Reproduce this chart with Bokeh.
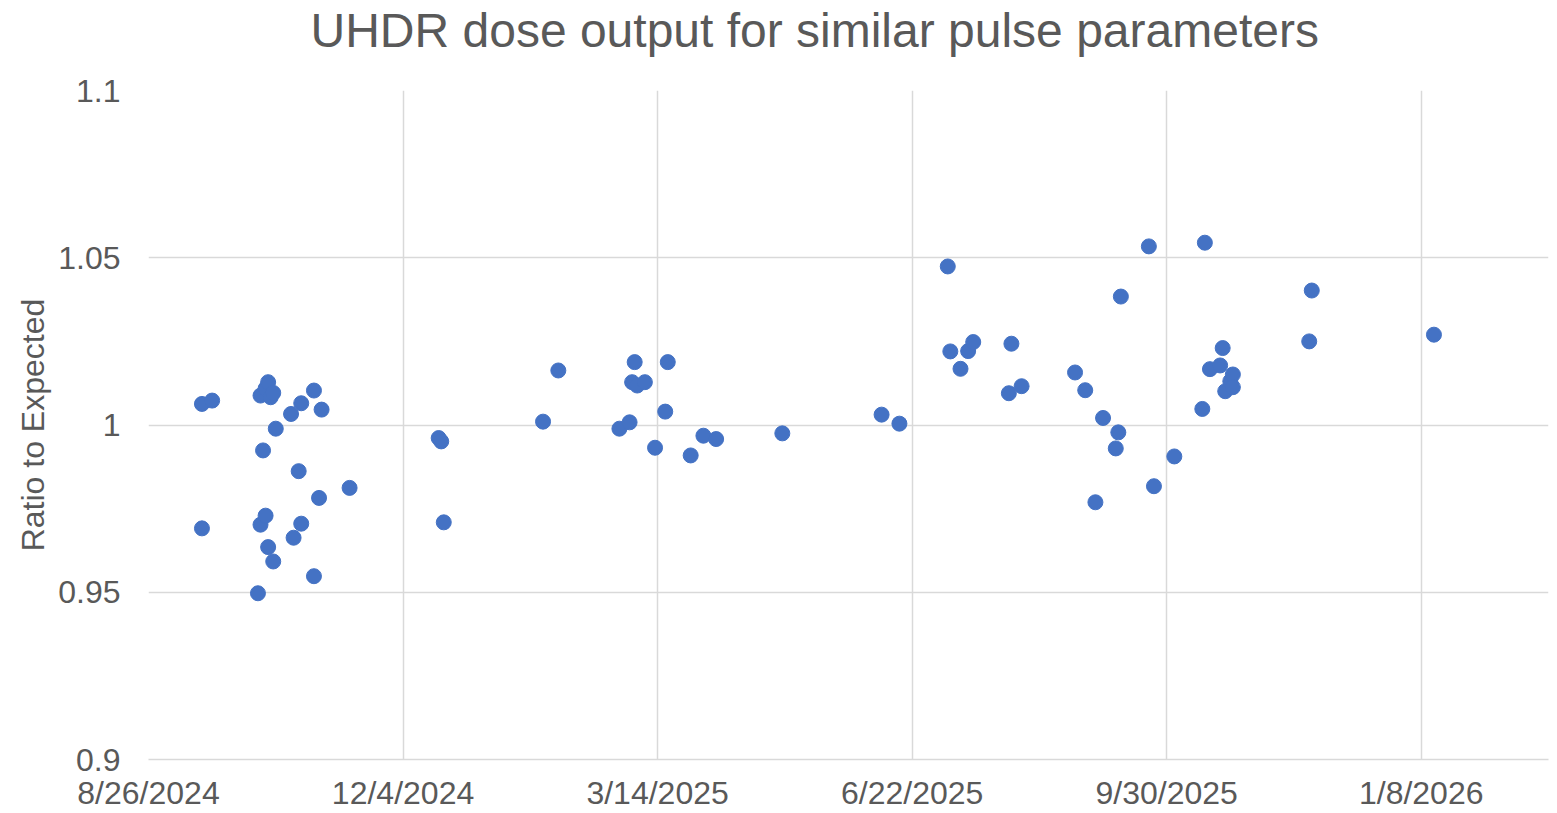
import pandas as pd
from bokeh.plotting import figure
from bokeh.models import Range1d, FixedTicker, CustomJSTickFormatter, ColumnDataSource, Title
from bokeh.embed import file_html
from bokeh.resources import INLINE

title_text = "UHDR dose output for similar pulse parameters"
y_axis_title = "Ratio to Expected"

dates = [
    "2024-09-16", "2024-09-16", "2024-09-20", "2024-10-08", "2024-10-09", "2024-10-09",
    "2024-10-10", "2024-10-11", "2024-10-11", "2024-10-12", "2024-10-12", "2024-10-13",
    "2024-10-14", "2024-10-14", "2024-10-15", "2024-10-21", "2024-10-22", "2024-10-24",
    "2024-10-25", "2024-10-25", "2024-10-30", "2024-10-30", "2024-11-01", "2024-11-02",
    "2024-11-13",
    "2024-12-18", "2024-12-19", "2024-12-20", "2025-01-28", "2025-02-03",
    "2025-02-27", "2025-03-03", "2025-03-04", "2025-03-05", "2025-03-06", "2025-03-09",
    "2025-03-13", "2025-03-17", "2025-03-18", "2025-03-27", "2025-04-01", "2025-04-06",
    "2025-05-02", "2025-06-10", "2025-06-17",
    "2025-07-06", "2025-07-07", "2025-07-11", "2025-07-14", "2025-07-16", "2025-07-30",
    "2025-07-31", "2025-08-04",
    "2025-08-25", "2025-08-29", "2025-09-02", "2025-09-05", "2025-09-10", "2025-09-11",
    "2025-09-12", "2025-09-23", "2025-09-25", "2025-10-03", "2025-10-14", "2025-10-15",
    "2025-10-17", "2025-10-21", "2025-10-22", "2025-10-23", "2025-10-25", "2025-10-26",
    "2025-10-26", "2025-11-25", "2025-11-26", "2026-01-13",
]
ratios = [
    1.0063, 0.9691, 1.0073, 0.9497, 1.0088, 0.9702,
    0.9924, 1.0109, 0.9729, 1.0128, 0.9635, 1.0083,
    1.0096, 0.9592, 0.9989, 1.0033, 0.9663, 0.9862,
    1.0065, 0.9705, 1.0103, 0.9548, 0.9782, 1.0046,
    0.9812,
    0.9961, 0.9951, 0.9709, 1.0010, 1.0163,
    0.9989, 1.0008, 1.0128, 1.0188, 1.0118, 1.0128,
    0.9932, 1.0040, 1.0188, 0.9909, 0.9968, 0.9958,
    0.9975, 1.0031, 1.0004,
    1.0474, 1.0220, 1.0168, 1.0221, 1.0248, 1.0095,
    1.0243, 1.0116,
    1.0157, 1.0104, 0.9769, 1.0021, 0.9930, 0.9978,
    1.0384, 1.0534, 0.9817, 0.9906, 1.0048, 1.0545,
    1.0167, 1.0178, 1.0230, 1.0101, 1.0131, 1.0151,
    1.0113, 1.0250, 1.0402, 1.0270,
]

x_tick_labels = ["8/26/2024", "12/4/2024", "3/14/2025", "6/22/2025", "9/30/2025", "1/8/2026"]
x_axis_end = "2026-02-27"
y_ticks = [0.9, 0.95, 1.0, 1.05, 1.1]

start = pd.to_datetime(x_tick_labels[0], format="%m/%d/%Y")
x_tick_days = [int((pd.to_datetime(t, format="%m/%d/%Y") - start).days) for t in x_tick_labels]
x_days = [int((pd.Timestamp(d) - start).days) for d in dates]
x_end = int((pd.Timestamp(x_axis_end) - start).days)

FONT = "Liberation Sans"
TXT = "#595959"
GRID = "#d9d9d9"

src = ColumnDataSource(dict(x=x_days, y=ratios))

p = figure(width=1557, height=813, output_backend="svg", toolbar_location=None,
           x_range=Range1d(0, x_end), y_range=Range1d(y_ticks[0], y_ticks[-1]),
           min_border_left=148, min_border_right=9, min_border_top=90, min_border_bottom=54)
p.outline_line_color = None
p.background_fill_color = "white"
p.border_fill_color = "white"

# spacer between frame and title (closest to the frame), then the real title
p.add_layout(Title(text=" ", text_font_size="1px", standoff=31), "above")
p.add_layout(Title(text=title_text, text_font=FONT, text_font_size="48px",
                   text_font_style="normal", text_color=TXT, align="left",
                   offset=162, standoff=0), "above")

p.scatter("x", "y", source=src, size=15, fill_color="#4472C4", line_color="#4472C4")

xa = p.xaxis[0]
xa.ticker = FixedTicker(ticks=x_tick_days)
xa.formatter = CustomJSTickFormatter(args=dict(lbls=x_tick_labels, tdays=x_tick_days), code="""
const i = tdays.indexOf(Math.round(tick));
return i >= 0 ? lbls[i] : "";
""")
xa.axis_line_color = GRID
xa.axis_line_width = 1.5
xa.major_tick_line_color = None
xa.minor_tick_line_color = None
xa.major_label_text_font = FONT
xa.major_label_text_font_size = "32px"
xa.major_label_text_color = TXT
xa.major_label_standoff = 9

ya = p.yaxis[0]
ya.ticker = FixedTicker(ticks=y_ticks)
ya.formatter = CustomJSTickFormatter(code="return String(Math.round(tick*100)/100);")
ya.axis_line_color = None
ya.major_tick_line_color = None
ya.minor_tick_line_color = None
ya.major_label_text_font = FONT
ya.major_label_text_font_size = "32px"
ya.major_label_text_color = TXT
ya.major_label_standoff = 22
ya.axis_label = y_axis_title
ya.axis_label_text_font = FONT
ya.axis_label_text_font_size = "32px"
ya.axis_label_text_font_style = "normal"
ya.axis_label_text_color = TXT
ya.axis_label_standoff = 4

p.xgrid.ticker = FixedTicker(ticks=x_tick_days)
p.ygrid.ticker = FixedTicker(ticks=y_ticks)
p.xgrid.grid_line_color = GRID
p.ygrid.grid_line_color = GRID
p.xgrid.grid_line_width = 1.5
p.ygrid.grid_line_width = 1.5

open("out.html", "w").write(file_html(p, INLINE))
